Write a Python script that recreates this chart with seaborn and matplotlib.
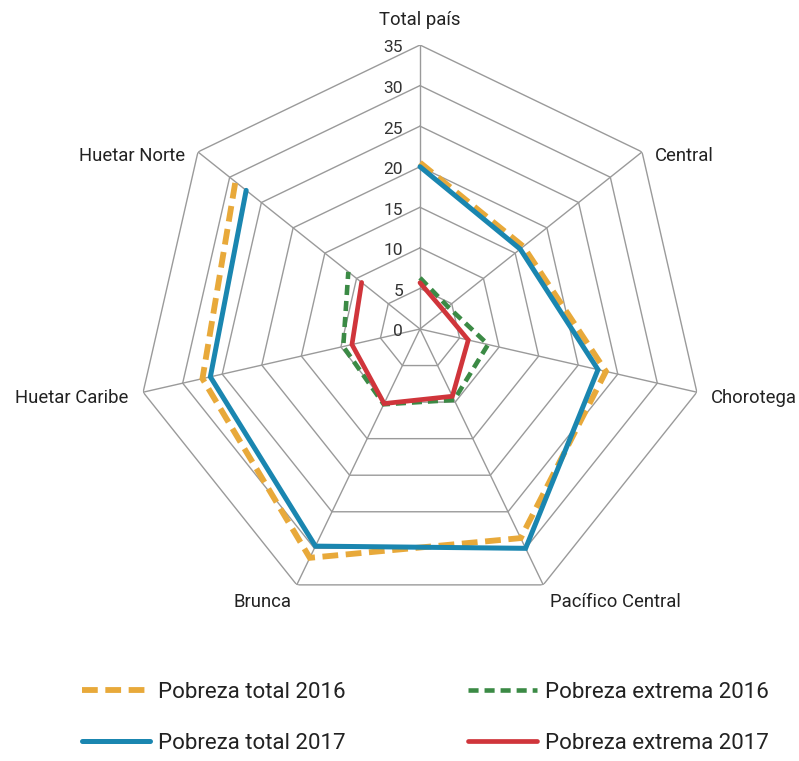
import numpy as np
import pandas as pd
import matplotlib
matplotlib.use("Agg")
import matplotlib.pyplot as plt
import seaborn as sns

categories = ["Total país", "Central", "Chorotega", "Pacífico Central",
              "Brunca", "Huetar Caribe", "Huetar Norte"]
pobreza_total_2016 = [20.5, 16.3, 23.5, 28.6, 31.3, 27.5, 29.1]
pobreza_total_2017 = [20.0, 15.8, 22.5, 30.0, 29.7, 26.5, 27.4]
pobreza_extrema_2016 = [6.3, 4.4, 8.6, 9.7, 10.3, 9.7, 11.3]
pobreza_extrema_2017 = [5.7, 3.7, 6.1, 9.2, 10.2, 8.6, 9.2]
series_names = ["Pobreza total 2016", "Pobreza total 2017",
                "Pobreza extrema 2016", "Pobreza extrema 2017"]
radial_ticks = [0, 5, 10, 15, 20, 25, 30, 35]

sns.set_theme(style="white")
plt.rcParams["font.family"] = ["Roboto", "DejaVu Sans"]

W, H = 799, 761
fig = plt.figure(figsize=(W / 100, H / 100), dpi=100)
cx, cy, R = 420, 329, 284
ax = fig.add_axes([(cx - R) / W, (H - cy - R) / H, 2 * R / W, 2 * R / H], projection="polar")
ax.set_theta_zero_location("N")
ax.set_theta_direction(-1)
ax.set_ylim(0, 35)
ax.spines["polar"].set_visible(False)
ax.set_facecolor("none")

n = len(categories)
angles = np.arange(n) * 2 * np.pi / n
ax.set_xticks(angles)
ax.set_xticklabels([])
ax.set_yticks([])
ax.yaxis.grid(False)
grid_col = "#9a9a9a"
ax.xaxis.grid(True, color=grid_col, linewidth=1.0)

closed = np.append(angles, angles[0])
for r in radial_ticks[1:]:
    ax.plot(closed, [r] * (n + 1), color=grid_col, linewidth=1.0, zorder=1)

styles = {
    "Pobreza total 2016": dict(color="#E8A93A", lw=4.2, dashes=(2.7, 1.3), z=3),
    "Pobreza total 2017": dict(color="#1A86B0", lw=3.6, dashes=None, z=4),
    "Pobreza extrema 2016": dict(color="#3B8A45", lw=3.3, dashes=(2.2, 1.3), z=5),
    "Pobreza extrema 2017": dict(color="#D0353B", lw=3.4, dashes=None, z=6),
}
values = [pobreza_total_2016, pobreza_total_2017, pobreza_extrema_2016, pobreza_extrema_2017]
for name, vals in zip(series_names, values):
    df = pd.DataFrame({"theta": closed, "value": list(vals) + [vals[0]]})
    st = styles[name]
    kw = dict(color=st["color"], linewidth=st["lw"], sort=False, ax=ax,
              zorder=st["z"], label=name, solid_joinstyle="miter", dash_joinstyle="miter")
    if st["dashes"] is not None:
        kw["dashes"] = st["dashes"]
    sns.lineplot(data=df, x="theta", y="value", **kw)

ax.set_xlabel("")
ax.set_ylabel("")
if ax.get_legend() is not None:
    ax.get_legend().remove()

# radial tick labels
for v in radial_ticks:
    ax.annotate(str(v), xy=(0, v), xytext=(-17, -3), textcoords="offset pixels",
                ha="right", va="center", fontsize=12.5, color="#333333")

# category labels
offsets = [
    (0, 25, "center", "center"),
    (13, -4, "left", "center"),
    (14, -6, "left", "center"),
    (7, -17, "left", "center"),
    (-5, -17, "right", "center"),
    (-15, -6, "right", "center"),
    (-13, -4, "right", "center"),
]
for ang, lab, (dx, dy, ha, va) in zip(angles, categories, offsets):
    ax.annotate(lab, xy=(ang, 35), xytext=(dx, dy), textcoords="offset pixels",
                ha=ha, va=va, fontsize=13.3, color="#222222")

handles, labels = ax.get_legend_handles_labels()
order = [labels.index(s) for s in series_names]
leg = fig.legend([handles[i] for i in order], [labels[i] for i in order],
                 ncol=2, loc="center", bbox_to_anchor=(0.532, 0.057),
                 frameon=False, fontsize=16, handlelength=3.1, handletextpad=0.35,
                 columnspacing=5.5, labelspacing=1.35)
for t in leg.get_texts():
    t.set_color("#222222")

fig.savefig("out.png", dpi=100)
